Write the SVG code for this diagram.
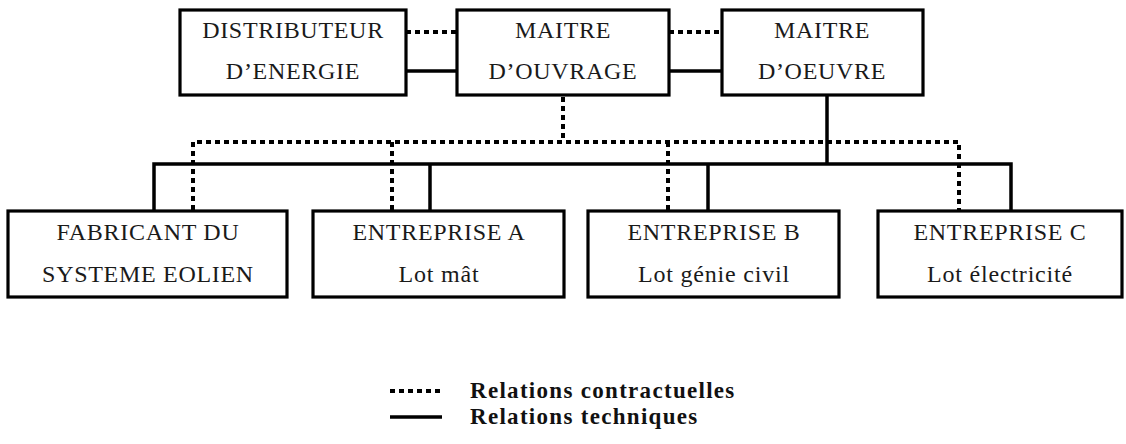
<svg xmlns="http://www.w3.org/2000/svg" width="1126" height="444" viewBox="0 0 1126 444">
<style>
.box{fill:#fff;stroke:#000;stroke-width:3.2}
.t{font-family:"Liberation Serif","Times New Roman",serif;font-size:24px;fill:#1a1a1a;text-anchor:middle}
.cap{letter-spacing:0.7px}
.low{letter-spacing:0.8px}
.dot{fill:none;stroke:#000;stroke-width:4;stroke-dasharray:5 4}
.sol{fill:none;stroke:#000;stroke-width:3.5}
.leg{font-family:"Liberation Serif","Times New Roman",serif;font-size:23px;font-weight:bold;fill:#111;letter-spacing:1.3px}
</style>
<rect width="1126" height="444" fill="#fff"/>
<g id="connectors">
<line class="dot" x1="406" y1="32" x2="457" y2="32"/>
<line class="dot" x1="669" y1="32" x2="722" y2="32"/>
<line class="sol" x1="406" y1="71" x2="457" y2="71"/>
<line class="sol" x1="669" y1="71" x2="722" y2="71"/>
<path class="dot" d="M563 97V142"/>
<path class="dot" d="M193 210V142H959V210"/>
<path class="dot" d="M392 142V210"/>
<path class="dot" d="M668 142V210"/>
<path class="sol" d="M827 96V164"/>
<path class="sol" d="M154 211V164H1011V211"/>
<path class="sol" d="M430 164V211"/>
<path class="sol" d="M708 164V211"/>
</g>
<g id="distributeur">
<rect class="box" x="180" y="10" width="226" height="85"/>
<text class="t cap" x="293" y="38">DISTRIBUTEUR</text>
<text class="t cap" x="293" y="79">D’ENERGIE</text>
</g>
<g id="maitre-ouvrage">
<rect class="box" x="457" y="10" width="212" height="85"/>
<text class="t cap" x="563" y="38">MAITRE</text>
<text class="t cap" x="563" y="79">D’OUVRAGE</text>
</g>
<g id="maitre-oeuvre">
<rect class="box" x="722" y="10" width="201" height="85"/>
<text class="t cap" x="822" y="38">MAITRE</text>
<text class="t cap" x="822" y="79">D’OEUVRE</text>
</g>
<g id="fabricant">
<rect class="box" x="8" y="211" width="279" height="86"/>
<text class="t cap" x="148" y="240">FABRICANT DU</text>
<text class="t cap" x="148" y="282">SYSTEME EOLIEN</text>
</g>
<g id="entreprise-a">
<rect class="box" x="313" y="211" width="251" height="86"/>
<text class="t cap" x="439" y="240">ENTREPRISE A</text>
<text class="t low" x="439" y="282">Lot mât</text>
</g>
<g id="entreprise-b">
<rect class="box" x="588" y="211" width="251" height="86"/>
<text class="t cap" x="714" y="240">ENTREPRISE B</text>
<text class="t low" x="714" y="282">Lot génie civil</text>
</g>
<g id="entreprise-c">
<rect class="box" x="878" y="211" width="244" height="86"/>
<text class="t cap" x="1000" y="240">ENTREPRISE C</text>
<text class="t low" x="1000" y="282">Lot électricité</text>
</g>
<g id="legend">
<line class="dot" x1="390" y1="391" x2="442" y2="391"/>
<line class="sol" x1="390" y1="417" x2="442" y2="417"/>
<text class="leg" x="470" y="398">Relations contractuelles</text>
<text class="leg" x="470" y="424">Relations techniques</text>
</g>
</svg>
